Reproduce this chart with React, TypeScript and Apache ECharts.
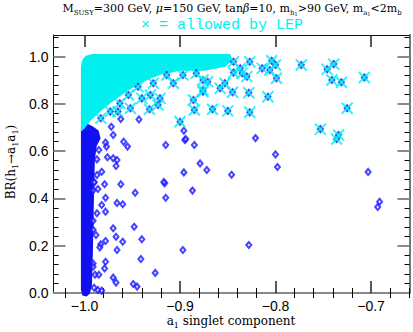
import React, { useEffect, useRef } from 'react';
import * as echarts from 'echarts';

// ---- axis ticks ----
const xMajorTicks = [-1.0, -0.9, -0.8, -0.7];
const xMinorTicks = [-1.02, -0.98, -0.96, -0.94, -0.92, -0.88, -0.86, -0.84, -0.82, -0.78, -0.76, -0.74, -0.72, -0.68, -0.66];
const yMajorTicks = [0.0, 0.2, 0.4, 0.6, 0.8, 1.0];
const yMinorTicks = [0.04, 0.08, 0.12, 0.16, 0.24, 0.28, 0.32, 0.36, 0.44, 0.48, 0.52, 0.56, 0.64, 0.68, 0.72, 0.76, 0.84, 0.88, 0.92, 0.96, 1.04, 1.08];

// ---- dense regions (outlines of densely populated point clouds) ----
const denseBlueBand: number[][] = [
  [-1.003, 0.702], [-0.9984, 0.715], [-0.992, 0.702], [-0.986, 0.685], [-0.984, 0.655],
  [-0.988, 0.622], [-0.990, 0.562], [-0.991, 0.393], [-0.992, 0.182], [-0.993, 0.034],
  [-0.995, 0.0], [-0.998, -0.011], [-1.0016, -0.008], [-1.003, 0.013],
];
const denseCyanArea: number[][] = [
  [-1.003, 0.689], [-1.003, 0.960], [-1.0016, 0.985], [-0.9984, 1.0], [-0.992, 1.008],
  [-0.848, 1.008], [-0.846, 0.985], [-0.853, 0.960], [-0.874, 0.943], [-0.900, 0.943],
  [-0.921, 0.926], [-0.939, 0.896], [-0.955, 0.858], [-0.970, 0.816], [-0.984, 0.770],
  [-0.994, 0.732], [-1.0005, 0.698],
];

// ---- individual points: excluded by LEP (blue diamonds) ----
const excludedPoints: number[][] = [
  [-0.978, 0.636], [-0.977, 0.619], [-0.959, 0.640], [-0.955, 0.619], [-0.915, 0.626], [-0.895, 0.647], [-0.885, 0.626],
  [-0.976, 0.574], [-0.966, 0.562], [-0.967, 0.537], [-0.879, 0.548], [-0.896, 0.510], [-0.872, 0.520],
  [-0.987, 0.565], [-0.982, 0.513], [-0.987, 0.499], [-0.990, 0.468], [-0.979, 0.460], [-0.962, 0.460], [-0.916, 0.464], [-0.917, 0.469],
  [-0.947, 0.424], [-0.915, 0.403], [-0.887, 0.433], [-0.986, 0.440], [-0.978, 0.403], [-0.982, 0.372], [-0.966, 0.381], [-0.960, 0.375],
  [-0.978, 0.344], [-0.987, 0.337], [-0.970, 0.274], [-0.948, 0.280], [-0.988, 0.245], [-0.967, 0.238], [-0.960, 0.217], [-0.940, 0.227],
  [-0.978, 0.220], [-0.983, 0.206], [-0.966, 0.182], [-0.984, 0.193], [-0.897, 0.182], [-0.978, 0.132], [-0.979, 0.104], [-0.941, 0.144],
  [-0.926, 0.085], [-0.989, 0.077], [-0.985, 0.077], [-0.970, 0.065], [-0.967, 0.044], [-0.949, 0.038], [-0.945, 0.027], [-0.986, 0.013], [-0.982, 0.010],
  [-0.846, 0.500], [-0.800, 0.586], [-0.798, 0.533], [-0.703, 0.512], [-0.691, 0.386], [-0.693, 0.364], [-0.828, 0.203], [-0.821, 0.655],
  [-0.972, 0.703], [-0.962, 0.736], [-0.943, 0.734], [-0.970, 0.668], [-0.896, 0.686], [-0.894, 0.651], [-0.970, 0.570], [-0.985, 0.605],
  [-0.991, 0.434], [-0.990, 0.468], [-0.991, 0.267], [-0.991, 0.125], [-0.991, 0.111], [-0.990, 0.022], [-0.991, 0.305],
];

// ---- individual points: allowed by LEP (cyan crosses) ----
const allowedPoints: number[][] = [
  [-0.773, 0.964], [-0.746, 0.946], [-0.739, 0.968], [-0.741, 0.901], [-0.731, 0.891], [-0.707, 0.911], [-0.725, 0.781],
  [-0.753, 0.693], [-0.734, 0.668], [-0.736, 0.651],
  [-0.804, 0.982], [-0.800, 0.964], [-0.806, 0.943], [-0.814, 0.950], [-0.799, 0.908], [-0.830, 0.915], [-0.828, 0.847],
  [-0.845, 0.849], [-0.808, 0.830], [-0.858, 0.866], [-0.866, 0.777], [-0.876, 0.851], [-0.850, 0.770], [-0.827, 0.764],
  [-0.871, 0.893], [-0.853, 0.887], [-0.837, 0.950], [-0.827, 0.978], [-0.844, 0.978], [-0.835, 0.929], [-0.844, 0.932],
  [-0.900, 0.724], [-0.885, 0.774], [-0.886, 0.816], [-0.876, 0.858], [-0.923, 0.795], [-0.932, 0.777], [-0.931, 0.837],
  [-0.952, 0.781], [-0.965, 0.767], [-0.973, 0.767], [-0.983, 0.739], [-0.954, 0.837], [-0.944, 0.872], [-0.928, 0.887],
  [-0.907, 0.887], [-0.897, 0.922], [-0.914, 0.922], [-0.883, 0.929], [-0.921, 0.823], [-0.940, 0.823], [-0.963, 0.802],
  [-0.876, 0.901],
];

const X_MIN = -1.0325;
const X_MAX = -0.6597;
const Y_MIN = 0;
const Y_MAX = 1.091;

const BLUE = '#1010f0';
const DIAMOND = '#1818ff';
const CYAN = '#00f0f0';
const LABEL_FONT = '"Liberation Sans", Arial, sans-serif';
const SERIF = '"DejaVu Serif", serif';

const fmt = (v: number) => v.toFixed(1).replace('-', '\u2212');

function makeX(position: 'top' | 'bottom', ticks: number[], len: number, tickColor: string, tickWidth: number, line: any, labels: boolean) {
  return {
    type: 'value', position, min: X_MIN, max: X_MAX,
    axisLine: line ? { show: true, onZero: false, lineStyle: line } : { show: false },
    axisTick: { show: true, inside: true, length: len, customValues: ticks, lineStyle: { color: tickColor, width: tickWidth } },
    axisLabel: labels
      ? { show: true, customValues: ticks, formatter: fmt, margin: 6, color: '#000', fontSize: 14, fontFamily: LABEL_FONT }
      : { show: false },
    splitLine: { show: false },
  };
}
function makeY(position: 'left' | 'right', ticks: number[], len: number, tickColor: string, tickWidth: number, line: any, labels: boolean) {
  return {
    type: 'value', position, min: Y_MIN, max: Y_MAX,
    axisLine: line ? { show: true, onZero: false, lineStyle: line } : { show: false },
    axisTick: { show: true, inside: true, length: len, customValues: ticks, lineStyle: { color: tickColor, width: tickWidth } },
    axisLabel: labels
      ? { show: true, customValues: ticks, formatter: (v: number) => v.toFixed(1), margin: 5, color: '#000', fontSize: 14, fontFamily: LABEL_FONT }
      : { show: false },
    splitLine: { show: false },
  };
}

const polygonSeries = (data: number[][], color: string) => ({
  type: 'custom',
  clip: false,
  silent: true,
  data,
  renderItem: (params: any, api: any) => {
    if (params.dataIndex !== 0) return null;
    return {
      type: 'polygon',
      shape: { points: data.map((p) => api.coord(p)) },
      style: { fill: color, stroke: color, lineWidth: 1.5 },
    };
  },
});

export default function App() {
  const ref = useRef<HTMLDivElement>(null);
  useEffect(() => {
    if (!ref.current) return;
    const chart = echarts.init(ref.current, undefined, { renderer: 'svg' });
    const option: any = {
      animation: false,
      backgroundColor: '#fff',
      grid: { left: 53.5, right: 3.5, top: 35, bottom: 39, outerBoundsMode: 'none' },
      xAxis: [
        makeX('bottom', xMajorTicks, 12, '#222', 1.5, { color: '#888', width: 2 }, true),
        makeX('bottom', xMinorTicks, 5, '#000', 1, null, false),
        makeX('top', xMajorTicks, 12, '#222', 1.5, { color: '#111', width: 1 }, false),
        makeX('top', xMinorTicks, 5, '#000', 1, null, false),
      ],
      yAxis: [
        makeY('left', yMajorTicks, 12, '#888', 2, { color: '#111', width: 1 }, true),
        makeY('left', yMinorTicks, 5, '#000', 1, null, false),
        makeY('right', yMajorTicks, 12, '#888', 2, { color: '#777', width: 2 }, false),
        makeY('right', yMinorTicks, 5, '#000', 1, null, false),
      ],
      series: [
        polygonSeries(denseBlueBand, BLUE),
        {
          type: 'scatter', data: excludedPoints.concat(allowedPoints), symbol: 'diamond', symbolSize: [5, 6],
          itemStyle: { color: 'rgba(220,220,255,0.5)', borderColor: DIAMOND, borderWidth: 2 }, silent: true,
        },
        polygonSeries(denseCyanArea, CYAN),
        {
          type: 'scatter', data: allowedPoints, symbol: 'path://M0,0L10,10M10,0L0,10', symbolSize: 11,
          itemStyle: { color: 'rgba(0,0,0,0)', borderColor: CYAN, borderWidth: 2 }, silent: true,
        },
      ],
      graphic: [
        {
          type: 'text', x: 232, y: 8,
          style: {
            text: '{n|M}{s|SUSY}{n|=300 GeV, }{g|\u03bc}{n|=150 GeV, tan}{g|\u03b2}{n|=10, m}{s|h}{ss|1}{n|>90 GeV, m}{s|a}{ss|1}{n|<2m}{s|b}',
            align: 'center', verticalAlign: 'middle',
            rich: {
              n: { fontFamily: SERIF, fontSize: 11, lineHeight: 16, verticalAlign: 'middle', fill: '#000' },
              g: { fontFamily: SERIF, fontSize: 11, lineHeight: 16, fontStyle: 'italic', fill: '#000' },
              s: { fontFamily: SERIF, fontSize: 7, lineHeight: 8, verticalAlign: 'bottom', fill: '#000' },
              ss: { fontFamily: SERIF, fontSize: 5, lineHeight: 4, verticalAlign: 'bottom', fill: '#000' },
            },
          },
        },
        {
          type: 'text', x: 222, y: 25,
          style: {
            text: '\u00d7 = allowed by LEP', align: 'center', verticalAlign: 'middle',
            font: '15px "Liberation Mono", "DejaVu Sans Mono", monospace', fill: CYAN,
          },
        },
        {
          type: 'text', x: 231, y: 321,
          style: {
            text: '{n|a}{s|1}{n| singlet component}', align: 'center', verticalAlign: 'middle',
            rich: {
              n: { fontFamily: SERIF, fontSize: 12, lineHeight: 16, fill: '#000' },
              s: { fontFamily: SERIF, fontSize: 8, lineHeight: 8, verticalAlign: 'bottom', fill: '#000' },
            },
          },
        },
        {
          type: 'text', x: 11, y: 162, rotation: Math.PI / 2,
          style: {
            text: '{n|BR(h}{s|1}{n|\u2192a}{s|1}{n|a}{s|1}{n|)}', align: 'center', verticalAlign: 'middle',
            rich: {
              n: { fontFamily: SERIF, fontSize: 12, lineHeight: 16, fill: '#000' },
              s: { fontFamily: SERIF, fontSize: 8, lineHeight: 8, verticalAlign: 'bottom', fill: '#000' },
            },
          },
        },
      ],
    };
    chart.setOption(option);
    return () => chart.dispose();
  }, []);
  return <div ref={ref} style={{ position: 'fixed', left: 0, top: 0, width: 413, height: 332, background: '#fff' }} />;
}
